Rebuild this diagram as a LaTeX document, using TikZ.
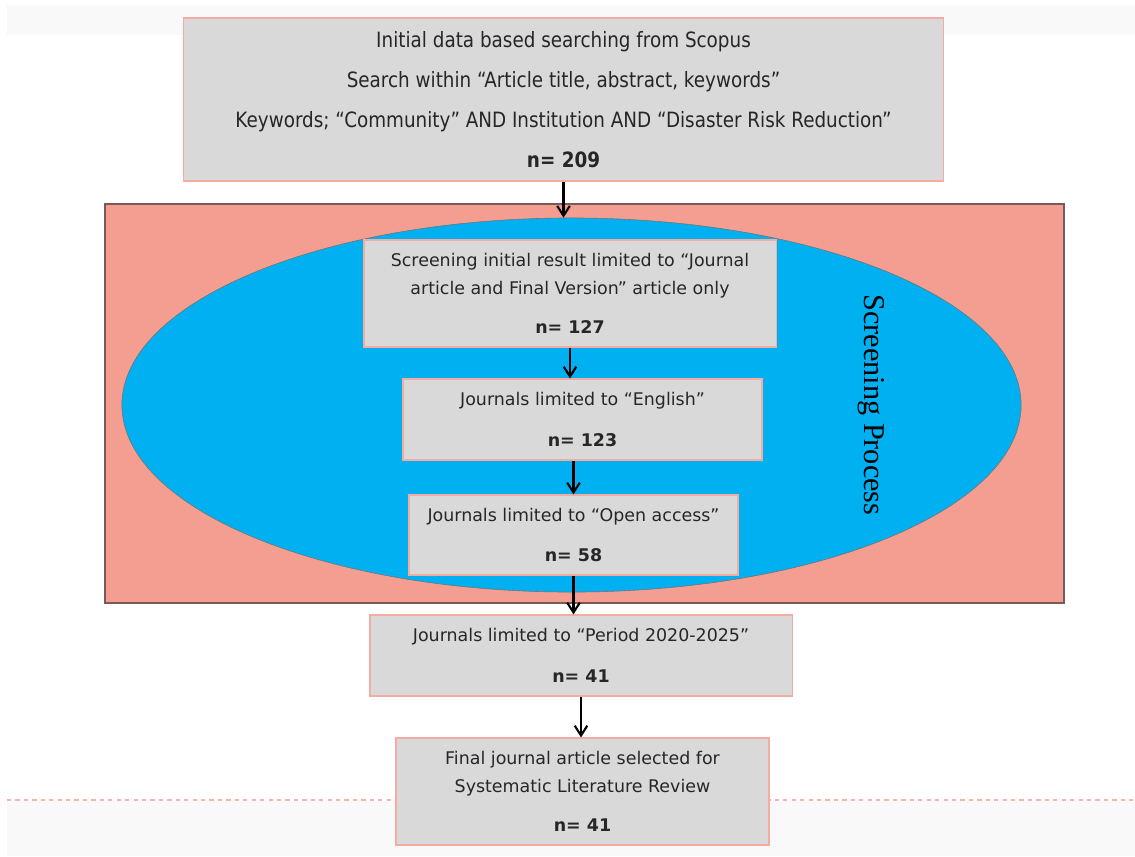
\documentclass[tikz,border=0pt]{standalone}
\usepackage{fontspec}
\setmainfont{DejaVu Sans}
\newfontfamily\narrowfont[FakeStretch=0.87]{DejaVu Sans}
\newfontfamily\sidefont{Liberation Serif}
\usetikzlibrary{shapes.geometric, arrows.meta}

\definecolor{boxgray}{HTML}{D9D9D9}
\definecolor{boxline}{HTML}{F4ACA2}
\definecolor{zonefill}{HTML}{F49E91}
\definecolor{zoneline}{HTML}{7A5A58}
\definecolor{ovalfill}{HTML}{00B0F0}
\definecolor{bandgray}{HTML}{F9F9F9}
\definecolor{bandline}{HTML}{F8B4A8}

\tikzset{
  stepbox/.style={draw=boxline, fill=boxgray, line width=0.8pt, align=center,
    inner sep=0pt, font=\fontsize{12.4}{20}\selectfont, text=black!85},
  flow/.style={-{Straight Barb[length=7pt, width=9pt]}, line width=1.5pt}
}

\begin{document}
\begin{tikzpicture}[x=0.025cm, y=-0.025cm]
    \useasboundingbox (0,0) rectangle (1135,856);
    % slide background bands
    \fill[bandgray] (7,5) rectangle (1135,35);
    \fill[bandgray] (7,800) rectangle (1135,856);
    \draw[dashed, color=bandline, line width=0.8pt] (7,800) -- (1135,800);

    % screening zone
    \draw[fill=zonefill, draw=zoneline, line width=0.8pt] (105,204) rectangle (1064,603);
    \node (scr) [ellipse, fill=ovalfill, draw=black!55, line width=0.4pt, inner sep=0pt,
      minimum width=22.475cm, minimum height=9.35cm] at (571.5,405) {};
    \node (lbl) [rotate=-90, font=\sidefont\fontsize{21.5}{24}\selectfont] at (871,405)
      {Screening Process};

    % steps
    \node (init) [stepbox, minimum width=18.975cm, minimum height=4.075cm,
      font=\narrowfont\fontsize{15}{28.4}\selectfont] at (563.5,99.5)
      {Initial data based searching from Scopus\\
       Search within “Article title, abstract, keywords”\\
       Keywords; “Community” AND Institution AND “Disaster Risk Reduction”\\
       \textbf{n= 209}};
    \node (s1) [stepbox, minimum width=10.3cm, minimum height=2.675cm] at (570,293.5)
      {Screening initial result limited to “Journal\\
       article and Final Version” article only\\[8pt]
       \textbf{n= 127}};
    \node (s2) [stepbox, minimum width=8.975cm, minimum height=2.025cm] at (582.5,419.5)
      {Journals limited to “English”\\[9pt] \textbf{n= 123}};
    \node (s3) [stepbox, minimum width=8.225cm, minimum height=2cm] at (573.5,535)
      {Journals limited to “Open access”\\[9pt] \textbf{n= 58}};
    \node (s4) [stepbox, minimum width=10.55cm, minimum height=2.025cm] at (581,655.5)
      {Journals limited to “Period 2020-2025”\\[9pt] \textbf{n= 41}};
    \node (s5) [stepbox, minimum width=9.325cm, minimum height=2.675cm] at (582.5,791.5)
      {Final journal article selected for\\
       Systematic Literature Review\\[8pt]
       \textbf{n= 41}};

    % arrows
    \draw[flow] (init.south) -- (init.south |- scr.north);
    \draw[flow] (s1.south) -- (s1.south |- s2.north);
    \draw[flow] (s3.north |- s2.south) -- (s3.north);
    \draw[flow] (s3.south) -- (s3.south |- s4.north);
    \draw[flow] (s4.south) -- (s4.south |- s5.north);
\end{tikzpicture}
\end{document}
